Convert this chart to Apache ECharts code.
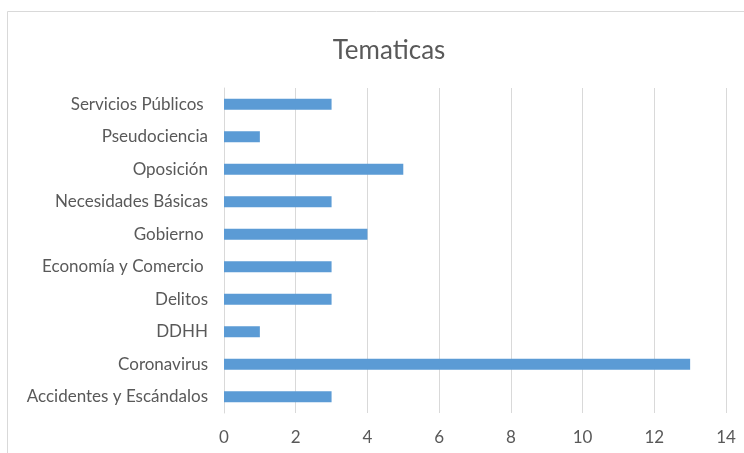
<!DOCTYPE html>
<html><head><meta charset="utf-8">
<script src="https://cdn.jsdelivr.net/npm/echarts@6/dist/echarts.min.js"></script>
<style>html,body{margin:0;padding:0;background:#fff}#c{width:744px;height:453px}</style>
</head><body><div id="c"></div>
<script>
const categories = ["Accidentes y Escándalos","Coronavirus","DDHH","Delitos","Economía y Comercio ","Gobierno ","Necesidades Básicas","Oposición","Pseudociencia","Servicios Públicos "];
const values = [3,13,1,3,3,4,3,5,1,3];
const xTicks = {min:0,max:14,interval:2};
const titleText = "Tematicas";
const FONT = "Lato";
const chart = echarts.init(document.getElementById('c'), null, {renderer:'canvas'});
chart.setOption({
  animation:false,
  backgroundColor:'#fff',
  graphic:[{type:'rect',shape:{x:7.5,y:11.5,width:760,height:460},style:{fill:'none',stroke:'#D9D9D9',lineWidth:1},silent:true,z:-1}],
  title:{text:titleText,left:384,top:33,textAlign:'center',textStyle:{fontFamily:FONT,fontSize:26,fontWeight:'normal',color:'#595959'}},
  grid:{left:224,right:18,top:88,bottom:40,containLabel:false},
  xAxis:{type:'value',min:xTicks.min,max:xTicks.max,interval:xTicks.interval,
    axisLine:{show:false},axisTick:{show:false},
    axisLabel:{fontFamily:FONT,fontSize:17,color:'#595959',margin:16},
    splitLine:{lineStyle:{color:'#D9D9D9',width:1}}},
  yAxis:{type:'category',data:categories,
    axisLine:{show:true,lineStyle:{color:'#D9D9D9'}},axisTick:{show:false},
    axisLabel:{fontFamily:FONT,fontSize:17,color:'#595959',margin:16}},
  series:[{type:'bar',data:values,barWidth:11,itemStyle:{color:'#5B9BD5'}}]
});
</script></body></html>
